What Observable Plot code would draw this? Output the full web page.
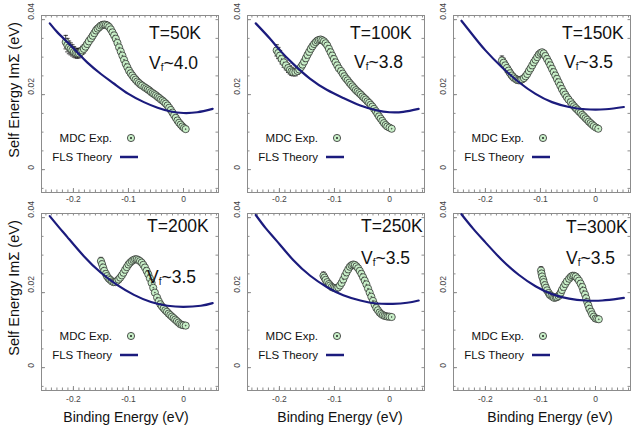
<!DOCTYPE html>
<html><head><meta charset="utf-8">
<script src="https://cdn.jsdelivr.net/npm/d3@7"></script>
<script src="https://cdn.jsdelivr.net/npm/@observablehq/plot@0.6"></script>
<style>
html,body{margin:0;padding:0;background:#fff;}
#chart{position:relative;width:631px;height:429px;overflow:hidden;font-family:"Liberation Sans",Arial,sans-serif;background:#fff;}
#chart svg{position:absolute;}
</style></head><body><div id="chart"></div>
<script>
// ---- labels ----
const temps = ["T=50K", "T=100K", "T=150K", "T=200K", "T=250K", "T=300K"];
const vfValues = ["~4.0", "~3.8", "~3.5", "~3.5", "~3.5", "~3.5"];
const legendLabels = ["MDC Exp.", "FLS Theory"];
const yTitle = "Self Energy ImΣ (eV)";
const xTitle = "Binding Energy (eV)";
const xLabelTicks = [-0.2, -0.1, 0];
const yLabelTicks = [0, 0.02, 0.04];
const xDomain = [-0.258, 0.0636];
const yDomain = [-0.0061, 0.0411];

// ---- MDC experiment: [binding energy, Im Σ, error] ----
const mdc50 = [[-0.214,.0340,.0018],[-0.211,.0332,.0018],[-0.208,.0326,.0017],[-0.205,.0322,.0016],[-0.202,.0318,.0015],[-0.199,.0314,.0014],[-0.196,.0311,.0013],[-0.193,.0310,.0013],[-0.190,.0310,.0012],[-0.187,.0313,.0012],[-0.184,.0318,.0011],[-0.181,.0322,.0011],[-0.178,.0328,.0010],[-0.175,.0335,.0010],[-0.172,.0342,.0010],[-0.168,.0350,.0009],[-0.165,.0357,.0009],[-0.162,.0364,.0009],[-0.159,.0371,.0009],[-0.156,.0376,.0008],[-0.153,.0380,.0008],[-0.150,.0384,.0008],[-0.147,.0386,.0008],[-0.144,.0387,.0008],[-0.141,.0386,.0008],[-0.138,.0384,.0008],[-0.135,.0380,.0008],[-0.132,.0374,.0007],[-0.129,.0366,.0007],[-0.126,.0358,.0007],[-0.123,.0349,.0007],[-0.120,.0338,.0007],[-0.117,.0326,.0007],[-0.114,.0315,.0007],[-0.111,.0304,.0007],[-0.108,.0293,.0006],[-0.105,.0282,.0006],[-0.102,.0273,.0006],[-0.099,.0264,.0006],[-0.096,.0257,.0006],[-0.093,.0251,.0006],[-0.090,.0245,.0006],[-0.087,.0240,.0006],[-0.084,.0235,.0006],[-0.081,.0231,.0006],[-0.078,.0227,.0006],[-0.075,.0224,.0006],[-0.071,.0220,.0005],[-0.068,.0217,.0005],[-0.065,.0214,.0005],[-0.062,.0211,.0005],[-0.059,.0207,.0005],[-0.056,.0204,.0005],[-0.053,.0201,.0005],[-0.050,.0198,.0005],[-0.047,.0194,.0005],[-0.044,.0191,.0005],[-0.041,.0187,.0005],[-0.038,.0184,.0005],[-0.035,.0180,.0005],[-0.032,.0176,.0005],[-0.029,.0171,.0004],[-0.026,.0165,.0004],[-0.023,.0159,.0004],[-0.020,.0152,.0004],[-0.017,.0145,.0004],[-0.014,.0138,.0004],[-0.011,.0131,.0004],[-0.008,.0125,.0004],[-0.005,.0120,.0003],[-0.002,.0115,.0003],[0.001,.0111,.0003],[0.004,.0108,.0003]];
const mdc100 = [[-0.205,.0318,.0015],[-0.202,.0311,.0015],[-0.199,.0304,.0014],[-0.196,.0295,.0013],[-0.192,.0286,.0013],[-0.188,.0278,.0012],[-0.184,.0271,.0012],[-0.181,.0266,.0011],[-0.178,.0262,.0011],[-0.175,.0260,.0010],[-0.171,.0260,.0010],[-0.167,.0263,.0009],[-0.164,.0267,.0009],[-0.161,.0273,.0009],[-0.158,.0280,.0009],[-0.155,.0288,.0008],[-0.152,.0297,.0008],[-0.149,.0306,.0008],[-0.146,.0314,.0008],[-0.143,.0322,.0008],[-0.140,.0329,.0007],[-0.137,.0335,.0007],[-0.134,.0340,.0007],[-0.131,.0344,.0007],[-0.128,.0346,.0007],[-0.125,.0347,.0007],[-0.122,.0345,.0007],[-0.119,.0342,.0007],[-0.116,.0337,.0006],[-0.113,.0331,.0006],[-0.110,.0322,.0006],[-0.107,.0313,.0006],[-0.104,.0304,.0006],[-0.101,.0295,.0006],[-0.098,.0286,.0006],[-0.095,.0278,.0006],[-0.092,.0270,.0006],[-0.088,.0263,.0006],[-0.085,.0256,.0005],[-0.082,.0249,.0005],[-0.079,.0243,.0005],[-0.076,.0238,.0005],[-0.073,.0232,.0005],[-0.070,.0227,.0005],[-0.067,.0222,.0005],[-0.064,.0217,.0005],[-0.061,.0212,.0005],[-0.058,.0208,.0005],[-0.055,.0204,.0005],[-0.052,.0200,.0005],[-0.049,.0195,.0005],[-0.046,.0191,.0005],[-0.043,.0187,.0004],[-0.040,.0182,.0004],[-0.037,.0178,.0004],[-0.034,.0173,.0004],[-0.031,.0168,.0004],[-0.028,.0162,.0004],[-0.025,.0156,.0004],[-0.022,.0149,.0004],[-0.019,.0142,.0004],[-0.016,.0136,.0004],[-0.013,.0130,.0003],[-0.010,.0124,.0003],[-0.007,.0119,.0003],[-0.004,.0115,.0003],[0.000,.0112,.0003],[0.004,.0109,.0003]];
const mdc150 = [[-0.170,.0291,.0012],[-0.167,.0285,.0012],[-0.164,.0278,.0011],[-0.161,.0271,.0011],[-0.158,.0264,.0010],[-0.155,.0257,.0010],[-0.152,.0251,.0009],[-0.149,.0246,.0009],[-0.145,.0242,.0008],[-0.142,.0239,.0008],[-0.139,.0238,.0008],[-0.136,.0239,.0008],[-0.133,.0241,.0007],[-0.130,.0244,.0007],[-0.127,.0249,.0007],[-0.124,.0255,.0007],[-0.121,.0263,.0007],[-0.118,.0270,.0006],[-0.115,.0278,.0006],[-0.112,.0286,.0006],[-0.109,.0293,.0006],[-0.106,.0300,.0006],[-0.103,.0307,.0006],[-0.100,.0311,.0006],[-0.097,.0313,.0006],[-0.094,.0310,.0006],[-0.091,.0303,.0006],[-0.088,.0295,.0006],[-0.085,.0287,.0005],[-0.082,.0278,.0005],[-0.079,.0269,.0005],[-0.076,.0260,.0005],[-0.073,.0251,.0005],[-0.070,.0242,.0005],[-0.067,.0233,.0005],[-0.064,.0224,.0005],[-0.061,.0215,.0005],[-0.058,.0207,.0005],[-0.055,.0200,.0005],[-0.052,.0193,.0005],[-0.049,.0187,.0005],[-0.045,.0180,.0005],[-0.042,.0174,.0004],[-0.039,.0169,.0004],[-0.036,.0164,.0004],[-0.033,.0160,.0004],[-0.030,.0155,.0004],[-0.027,.0151,.0004],[-0.024,.0146,.0004],[-0.021,.0142,.0004],[-0.018,.0137,.0004],[-0.015,.0133,.0004],[-0.012,.0128,.0003],[-0.009,.0124,.0003],[-0.006,.0120,.0003],[-0.003,.0116,.0003],[0.001,.0112,.0003],[0.005,.0109,.0003]];
const mdc200 = [[-0.150,.0284,.0010],[-0.148,.0276,.0010],[-0.146,.0267,.0009],[-0.144,.0258,.0008],[-0.141,.0250,.0008],[-0.139,.0244,.0008],[-0.136,.0238,.0007],[-0.133,.0234,.0007],[-0.130,.0230,.0007],[-0.127,.0228,.0007],[-0.124,.0228,.0006],[-0.121,.0231,.0006],[-0.118,.0235,.0006],[-0.115,.0240,.0006],[-0.112,.0246,.0006],[-0.109,.0253,.0006],[-0.106,.0261,.0006],[-0.103,.0268,.0006],[-0.100,.0275,.0006],[-0.097,.0280,.0006],[-0.094,.0284,.0005],[-0.091,.0287,.0005],[-0.088,.0289,.0005],[-0.085,.0289,.0005],[-0.082,.0287,.0005],[-0.079,.0284,.0005],[-0.076,.0280,.0005],[-0.073,.0274,.0005],[-0.070,.0267,.0005],[-0.067,.0258,.0005],[-0.064,.0249,.0005],[-0.061,.0238,.0005],[-0.058,.0226,.0005],[-0.055,.0213,.0005],[-0.052,.0200,.0004],[-0.048,.0187,.0004],[-0.045,.0177,.0004],[-0.042,.0169,.0004],[-0.039,.0163,.0004],[-0.036,.0158,.0004],[-0.033,.0153,.0004],[-0.030,.0149,.0004],[-0.027,.0144,.0004],[-0.024,.0140,.0004],[-0.021,.0136,.0004],[-0.018,.0132,.0004],[-0.015,.0128,.0003],[-0.012,.0124,.0003],[-0.009,.0120,.0003],[-0.006,.0116,.0003],[-0.003,.0114,.0003],[0.000,.0113,.0003],[0.004,.0112,.0003]];
const mdc250 = [[-0.120,.0245,.0010],[-0.118,.0240,.0009],[-0.116,.0234,.0009],[-0.113,.0228,.0008],[-0.110,.0223,.0008],[-0.108,.0219,.0007],[-0.105,.0215,.0007],[-0.102,.0213,.0007],[-0.099,.0212,.0006],[-0.096,.0212,.0006],[-0.093,.0214,.0006],[-0.090,.0219,.0006],[-0.087,.0226,.0006],[-0.084,.0235,.0006],[-0.081,.0245,.0006],[-0.078,.0254,.0006],[-0.075,.0262,.0005],[-0.072,.0269,.0005],[-0.069,.0273,.0005],[-0.066,.0275,.0005],[-0.063,.0274,.0005],[-0.060,.0270,.0005],[-0.057,.0265,.0005],[-0.054,.0258,.0005],[-0.051,.0250,.0005],[-0.048,.0241,.0005],[-0.045,.0232,.0005],[-0.042,.0222,.0005],[-0.039,.0211,.0004],[-0.036,.0200,.0004],[-0.033,.0189,.0004],[-0.030,.0178,.0004],[-0.027,.0168,.0004],[-0.024,.0159,.0004],[-0.021,.0153,.0004],[-0.018,.0147,.0004],[-0.015,.0143,.0003],[-0.012,.0140,.0003],[-0.009,.0138,.0003],[-0.006,.0137,.0003],[-0.003,.0136,.0003],[0.000,.0136,.0003],[0.004,.0135,.0003]];
const mdc300 = [[-0.099,.0259,.0010],[-0.098,.0251,.0010],[-0.097,.0243,.0009],[-0.095,.0235,.0009],[-0.094,.0228,.0008],[-0.092,.0220,.0008],[-0.090,.0213,.0007],[-0.088,.0206,.0007],[-0.085,.0199,.0007],[-0.083,.0194,.0007],[-0.080,.0191,.0006],[-0.077,.0188,.0006],[-0.075,.0186,.0006],[-0.072,.0187,.0006],[-0.070,.0188,.0006],[-0.067,.0191,.0006],[-0.065,.0195,.0005],[-0.063,.0200,.0005],[-0.061,.0207,.0005],[-0.058,.0215,.0005],[-0.055,.0223,.0005],[-0.052,.0230,.0005],[-0.048,.0237,.0005],[-0.045,.0242,.0005],[-0.042,.0245,.0005],[-0.039,.0245,.0005],[-0.036,.0243,.0005],[-0.033,.0238,.0005],[-0.030,.0232,.0005],[-0.027,.0224,.0005],[-0.024,.0215,.0004],[-0.022,.0205,.0004],[-0.019,.0195,.0004],[-0.017,.0185,.0004],[-0.015,.0175,.0004],[-0.013,.0166,.0004],[-0.011,.0157,.0004],[-0.008,.0149,.0004],[-0.006,.0142,.0003],[-0.003,.0136,.0003],[0.000,.0131,.0003],[0.003,.0130,.0003],[0.006,.0129,.0003]];

// ---- FLS theory: [binding energy, Im Σ] ----
const fls50 = [[-0.243,0.0390],[-0.229,0.0366],[-0.211,0.0340],[-0.193,0.0313],[-0.175,0.0286],[-0.150,0.0255],[-0.126,0.0229],[-0.100,0.0202],[-0.072,0.0180],[-0.047,0.0165],[-0.023,0.0155],[0.000,0.0151],[0.025,0.0153],[0.053,0.0162]];
const fls100 = [[-0.243,0.0390],[-0.217,0.0349],[-0.199,0.0318],[-0.175,0.0282],[-0.144,0.0242],[-0.114,0.0213],[-0.084,0.0191],[-0.053,0.0171],[-0.023,0.0158],[0.000,0.0153],[0.025,0.0154],[0.053,0.0162]];
const fls150 = [[-0.2436,0.0397],[-0.222,0.0357],[-0.200,0.0318],[-0.170,0.0273],[-0.139,0.0233],[-0.109,0.0202],[-0.079,0.0180],[-0.048,0.0167],[-0.018,0.0161],[0.018,0.0161],[0.0515,0.0167]];
const fls200 = [[-0.243,0.0404],[-0.225,0.0372],[-0.211,0.0348],[-0.181,0.0297],[-0.150,0.0253],[-0.120,0.0220],[-0.090,0.0194],[-0.059,0.0175],[-0.029,0.0165],[0.000,0.0162],[0.0315,0.0165],[0.053,0.0172]];
const fls250 = [[-0.243,0.0407],[-0.225,0.0372],[-0.205,0.0338],[-0.175,0.0287],[-0.144,0.0245],[-0.114,0.0215],[-0.084,0.0193],[-0.053,0.0179],[-0.023,0.0171],[0.006,0.0170],[0.032,0.0173],[0.053,0.0179]];
const fls300 = [[-0.2436,0.0409],[-0.222,0.0370],[-0.200,0.0334],[-0.170,0.0287],[-0.139,0.0247],[-0.109,0.0217],[-0.079,0.0196],[-0.048,0.0184],[-0.018,0.0179],[0.012,0.0179],[0.042,0.0184],[0.0515,0.0186]];

// ---- layout ----
const FW = 177, FH = 177, ML = 41, MT = 15, MR = 3, MB = 40;
const frameColor = "#8c8c8c";
const green = "#c8efc8";
const navy = "#1b1b7d";
const xMinor = d3.range(-25, 7).map(i => i / 100);
const yMinor = d3.range(-1, 9).map(i => i * 0.005);
const fmt = d => d === 0 ? "0" : String(d);

const panels = [
  {mdc: mdc50,  fls: fls50,  left: 41,  top: 15,  Tx: 108, Ty: 18,  Vx: 108, Vy: 48, yT: true,  xT: null, tickDy: 9},
  {mdc: mdc100, fls: fls100, left: 247, top: 15,  Tx: 103, Ty: 18,  Vx: 107, Vy: 47, yT: false, xT: null, tickDy: 9},
  {mdc: mdc150, fls: fls150, left: 453, top: 15,  Tx: 109, Ty: 18,  Vx: 111, Vy: 47, yT: false, xT: null, tickDy: 9},
  {mdc: mdc200, fls: fls200, left: 41,  top: 213, Tx: 106, Ty: 13,  Vx: 106, Vy: 64, yT: true,  xT: 85,  tickDy: 11},
  {mdc: mdc250, fls: fls250, left: 247, top: 213, Tx: 114, Ty: 12.5,Vx: 114, Vy: 45, yT: false, xT: 93,  tickDy: 11},
  {mdc: mdc300, fls: fls300, left: 453, top: 213, Tx: 113, Ty: 13.5,Vx: 113, Vy: 45, yT: false, xT: 97,  tickDy: 11}
];

const mdcSymbol = {draw(ctx, size) {
  const r = Math.sqrt(size / Math.PI);
  ctx.moveTo(r, 0); ctx.arc(0, 0, r, 0, 2 * Math.PI);
  const r2 = r * 0.12;
  ctx.moveTo(r2, 0); ctx.arc(0, 0, r2, 0, 2 * Math.PI);
}};
const capSymbol = {draw(ctx, size) {
  const r = Math.sqrt(size / Math.PI);
  ctx.moveTo(-r, 0); ctx.lineTo(r, 0);
}};

const chart = document.getElementById("chart");

panels.forEach((p, i) => {
  const rows = p.mdc.map(([e, s, err]) => ({e, s, lo: s - err, hi: s + err}));
  const th = p.fls.map(([e, s]) => ({e, s}));
  const svg = Plot.plot({
    width: ML + FW + MR, height: MT + FH + MB,
    marginLeft: ML, marginTop: MT, marginRight: MR, marginBottom: MB,
    x: {domain: xDomain, axis: null},
    y: {domain: yDomain, axis: null},
    style: {background: "transparent", overflow: "visible", maxWidth: "none",
            fontFamily: "'Liberation Sans', Arial, sans-serif"},
    marks: [
      Plot.ruleX(xMinor, {x: d => d, insetTop: FH - 2.5, stroke: frameColor}),
      Plot.ruleX(xMinor, {x: d => d, insetBottom: FH - 2.5, stroke: frameColor}),
      Plot.ruleX(xLabelTicks, {x: d => d, insetTop: FH - 4, stroke: frameColor}),
      Plot.ruleY(yMinor, {y: d => d, insetRight: FW - 2.5, stroke: frameColor}),
      Plot.ruleY(yMinor, {y: d => d, insetLeft: FW - 2.5, stroke: frameColor}),
      Plot.ruleY(yLabelTicks, {y: d => d, insetRight: FW - 4, stroke: frameColor}),
      Plot.frame({stroke: frameColor}),
      Plot.text(xLabelTicks, {x: d => d, frameAnchor: "bottom", dy: p.tickDy, text: fmt, fontSize: 8.5, fill: "#444"}),
      Plot.text(yLabelTicks, {y: d => d, frameAnchor: "left", dx: -10, rotate: -90, text: fmt, fontSize: 8.5, fill: "#444"}),
      Plot.ruleX(rows, {x: "e", y1: "lo", y2: "hi", stroke: "#111", strokeWidth: 0.8}),
      Plot.dot(rows, {x: "e", y: "lo", symbol: capSymbol, r: 2.2, stroke: "#111", strokeWidth: 0.8, fill: "none"}),
      Plot.dot(rows, {x: "e", y: "hi", symbol: capSymbol, r: 2.2, stroke: "#111", strokeWidth: 0.8, fill: "none"}),
      Plot.dot(rows, {x: "e", y: "s", symbol: mdcSymbol, r: 3.6, fill: green, stroke: "#2a2a2a", strokeWidth: 0.75}),
      Plot.line(th, {x: "e", y: "s", curve: "natural", stroke: navy, strokeWidth: 2.2})
    ]
  });
  svg.style.left = (p.left - ML) + "px";
  svg.style.top = (p.top - MT) + "px";
  chart.appendChild(svg);

  const g = d3.select(svg).append("g")
    .attr("font-family", "'Liberation Sans', Arial, sans-serif").attr("fill", "#111");
  // temperature
  g.append("text").attr("x", ML + p.Tx).attr("y", MT + p.Ty).attr("text-anchor", "start")
    .attr("dominant-baseline", "central").attr("font-size", 17.5).text(temps[i]);
  // Fermi velocity with subscript
  const v = g.append("text").attr("x", ML + p.Vx).attr("y", MT + p.Vy).attr("text-anchor", "start")
    .attr("dominant-baseline", "central").attr("font-size", 17.5);
  v.append("tspan").text("V");
  v.append("tspan").attr("font-size", 10).attr("dy", 4).text("f");
  v.append("tspan").attr("dy", -4).text(vfValues[i]);
  // legend
  g.append("text").attr("x", ML + 71).attr("y", MT + 123).attr("text-anchor", "end")
    .attr("dominant-baseline", "central").attr("font-size", 11.5).text(legendLabels[0]);
  g.append("circle").attr("cx", ML + 90).attr("cy", MT + 123).attr("r", 3.6)
    .attr("fill", green).attr("stroke", "#2a2a2a").attr("stroke-width", 0.8);
  g.append("circle").attr("cx", ML + 90).attr("cy", MT + 123).attr("r", 1).attr("fill", "#222");
  g.append("text").attr("x", ML + 71).attr("y", MT + 142).attr("text-anchor", "end")
    .attr("dominant-baseline", "central").attr("font-size", 11.5).text(legendLabels[1]);
  g.append("line").attr("x1", ML + 79).attr("x2", ML + 97).attr("y1", MT + 142).attr("y2", MT + 142)
    .attr("stroke", navy).attr("stroke-width", 2.5);
  // axis titles
  if (p.yT) {
    g.append("text").attr("transform", `translate(14,${MT + 75}) rotate(-90)`)
      .attr("text-anchor", "middle").attr("dominant-baseline", "central")
      .attr("font-size", 14.5).text(yTitle);
  }
  if (p.xT !== null) {
    g.append("text").attr("x", ML + p.xT).attr("y", MT + FH + 27)
      .attr("text-anchor", "middle").attr("dominant-baseline", "central")
      .attr("font-size", 14).text(xTitle);
  }
});
</script></body></html>
